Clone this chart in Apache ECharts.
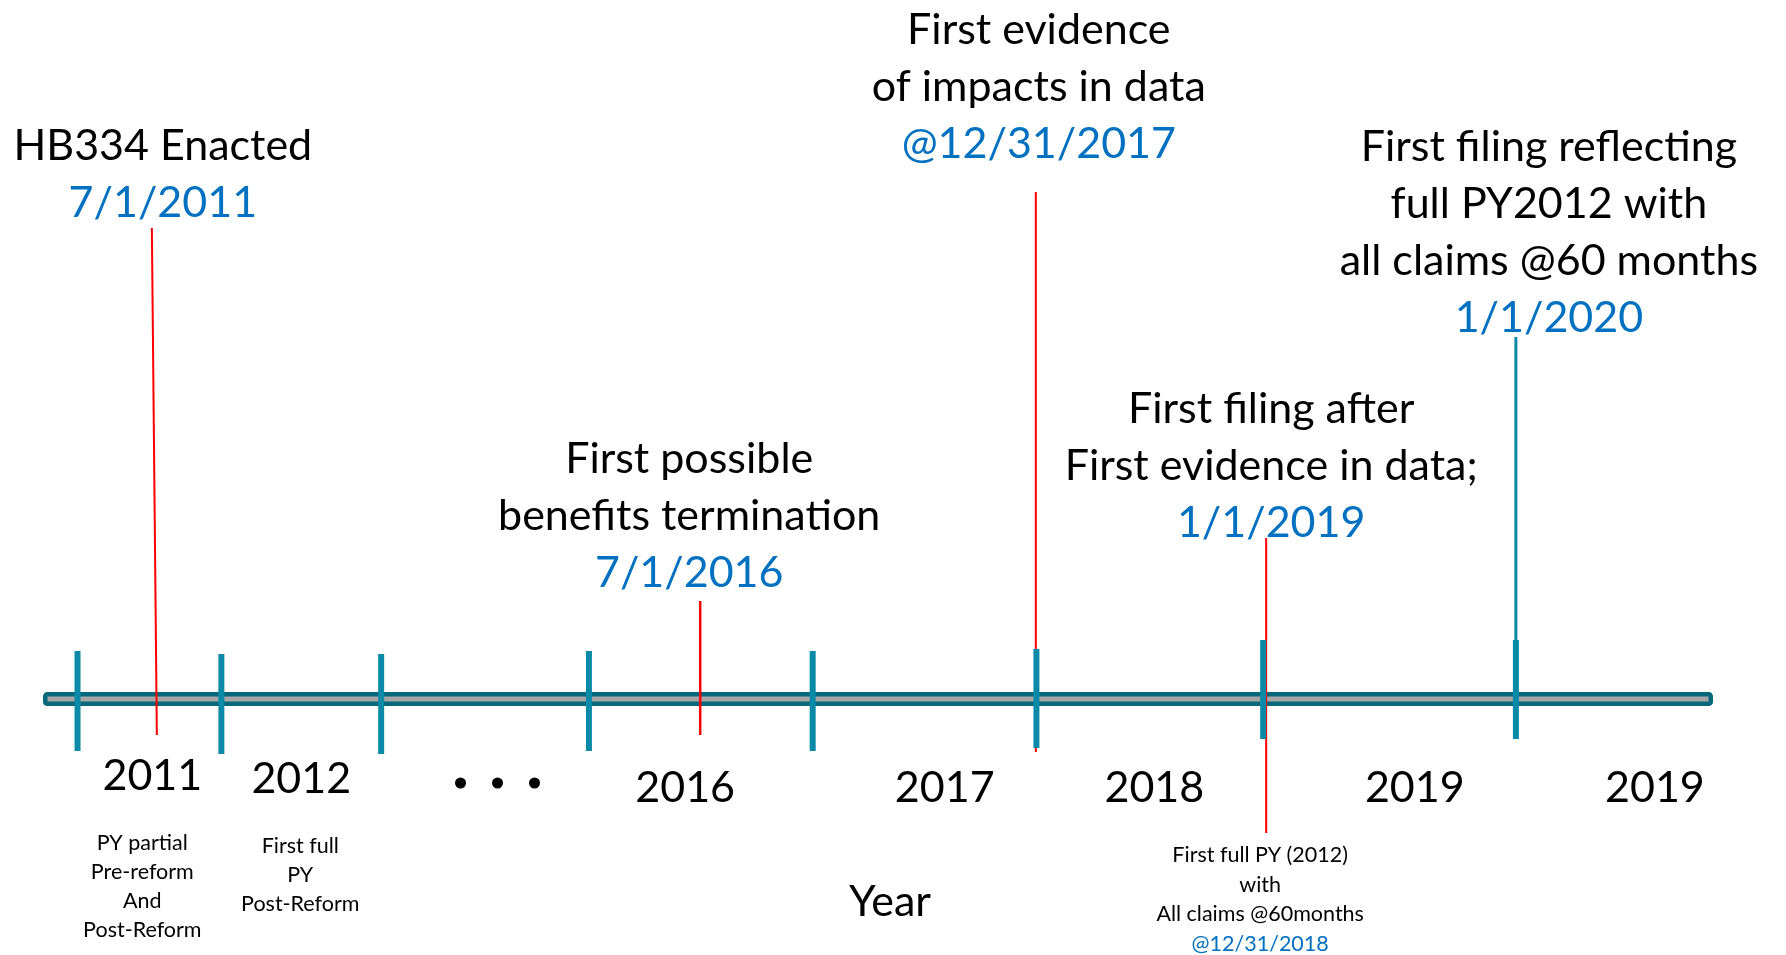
<!DOCTYPE html>
<html>
<head>
<meta charset="utf-8">
<title>HB334 timeline</title>
<script src="https://cdn.jsdelivr.net/npm/echarts@6/dist/echarts.min.js"></script>
<style>
  html, body { margin: 0; padding: 0; background: #fff; }
  #chart { width: 1786px; height: 955px; }
</style>
</head>
<body>
<div id="chart"></div>
<script>
// year boundaries (the tick marks) and where they sit on the schematic timeline
var tickYears = [2011, 2012, 2013, 2016, 2017, 2018, 2019, 2020];
var tickPos = [0, 1.44, 3.04, 5.12, 7.36, 9.60, 11.87, 14.40];
// years covered by the bar
var timelineSpan = [2010.76, 2020.78];

// year labels below the bar
var yearLabels = ['2011', '2012', '...', '2016', '2017', '2018', '2019', '2019'];
var yearLabelAt = [2011.52, 2012.5, 2014.68, 2016.43, 2017.59, 2018.52, 2019.6, 2020.55];

// milestones
var eventDates = ['7/1/2011', '7/1/2016', '12/31/2017', '1/1/2019', '1/1/2020'];
var eventTitles = [
  ['HB334 Enacted'],
  ['First possible', 'benefits termination'],
  ['First evidence', 'of impacts in data'],
  ['First filing after', 'First evidence in data;'],
  ['First filing reflecting', 'full PY2012 with', 'all claims @60 months']
];
var eventDateLabels = ['7/1/2011', '7/1/2016', '@12/31/2017', '1/1/2019', '1/1/2020'];

// small notes under the bar
var notes2011 = ['PY partial', 'Pre-reform', 'And', 'Post-Reform'];
var notes2012 = ['First full', 'PY', 'Post-Reform'];
var notes2019 = ['First full PY (2012)', 'with', 'All claims @60months'];
var notes2019Date = '@12/31/2018';

// ---- styles / layout (pixel offsets from the bar centre line) ----
var FONT = 'Lato, "Open Sans", sans-serif';
var BIG = 43, SMALL = 21.5;
var BLUE = '#0070c0', RED = '#ff0000', TICK = '#0b8aa7';
var tickSpan = [[-48, 52], [-45, 55], [-45, 55], [-48, 52], [-48, 52], [-50, 49], [-59, 40], [-59, 40]];
// lineDx: horizontal nudge of the marker line at its top and bottom (hand-drawn slant)
var eventStyle = [
  { top: -471, bottom: 36, w: 2, color: RED, lineDx: [3, 8], dx: 14, textBottom: -467.5 },
  { top: -98, bottom: 36, w: 2.5, color: RED, lineDx: [0, 0], dx: -11, textBottom: -97.5 },
  { top: -507, bottom: 53, w: 2, color: RED, lineDx: [0, 0], dx: 3, textBottom: -526.5 },
  { top: -161, bottom: 134, w: 2, color: RED, lineDx: [3, 3], dx: 8, textBottom: -147.5 },
  { top: -362, bottom: 0, w: 3, color: TICK, lineDx: [0, 0], dx: 33, textBottom: -352.5 }
];
var yearLabelDy = [77, 80, 84, 89, 89, 89, 89, 89];
var yearNotes = [notes2011, notes2012, null, null, null, null, null, null];
var noteDx = [-10, -1];
var noteTop = [129.5, 132.5];

// piecewise mapping from a (decimal) year to the schematic axis
function toPos(year) {
  var n = tickYears.length, i = 0;
  if (year >= tickYears[n - 1]) i = n - 2;
  else if (year > tickYears[0]) while (year > tickYears[i + 1]) i++;
  var f = (year - tickYears[i]) / (tickYears[i + 1] - tickYears[i]);
  return tickPos[i] + f * (tickPos[i + 1] - tickPos[i]);
}

function dateToYear(s) {
  var p = s.split('/').map(Number);
  var start = Date.UTC(p[2], 0, 1), end = Date.UTC(p[2] + 1, 0, 1);
  return p[2] + (Date.UTC(p[2], p[0] - 1, p[1]) - start) / (end - start);
}

var bigRich = {
  t: { fontSize: BIG, fontFamily: FONT, fill: '#000', lineHeight: 57 },
  d: { fontSize: BIG, fontFamily: FONT, fill: BLUE, lineHeight: 57 }
};
var smallRich = {
  n: { fontSize: SMALL, fontFamily: FONT, fill: '#000', lineHeight: 29.5 },
  d: { fontSize: SMALL, fontFamily: FONT, fill: BLUE, lineHeight: 29.5 }
};

function renderBar(params, api) {
  var cs = params.coordSys;
  var cy = api.coord([0, 0])[1];
  return {
    type: 'rect',
    shape: { x: cs.x + 2.25, y: cy - 4.75, width: cs.width - 4.5, height: 9.5, r: 2 },
    style: { fill: '#a6a6a6', stroke: '#05697b', lineWidth: 4.5 }
  };
}

function renderTick(params, api) {
  var p = api.coord([api.value(0), 0]);
  var s = tickSpan[params.dataIndex];
  return {
    type: 'rect',
    shape: { x: p[0] - 3, y: p[1] + s[0], width: 6, height: s[1] - s[0] },
    style: { fill: TICK }
  };
}

function renderEvent(params, api) {
  var i = params.dataIndex;
  var p = api.coord([api.value(0), 0]);
  var st = eventStyle[i];
  var lines = eventTitles[i].map(function (t) { return '{t|' + t + '}'; });
  lines.push('{d|' + eventDateLabels[i] + '}');
  var children = [
    {
      type: 'line',
      shape: {
        x1: p[0] + st.lineDx[0], y1: p[1] + st.top,
        x2: p[0] + st.lineDx[1], y2: p[1] + st.bottom
      },
      style: { stroke: st.color, lineWidth: st.w }
    },
    {
      type: 'text', x: p[0] + st.dx, y: p[1] + st.textBottom,
      style: { text: lines.join('\n'), align: 'center', verticalAlign: 'bottom', rich: bigRich }
    }
  ];
  if (i === 3) {
    var nl = notes2019.map(function (t) { return '{n|' + t + '}'; });
    nl.push('{d|' + notes2019Date + '}');
    children.push({
      type: 'text', x: p[0] - 3, y: p[1] + 141.5,
      style: { text: nl.join('\n'), align: 'center', verticalAlign: 'top', rich: smallRich }
    });
  }
  return { type: 'group', children: children };
}

function renderYear(params, api) {
  var i = params.dataIndex;
  var p = api.coord([api.value(0), 0]);
  var y = p[1] + yearLabelDy[i];
  var children = [];
  if (yearLabels[i] === '...') {
    for (var k = -1; k <= 1; k++) {
      children.push({ type: 'circle', shape: { cx: p[0] + k * 37, cy: y, r: 5.5 }, style: { fill: '#000' } });
    }
  } else {
    children.push({
      type: 'text', x: p[0], y: y,
      style: { text: yearLabels[i], align: 'center', verticalAlign: 'middle', fontSize: BIG, fontFamily: FONT, fill: '#000' }
    });
  }
  var note = yearNotes[i];
  if (note) {
    children.push({
      type: 'text', x: p[0] + noteDx[i], y: p[1] + noteTop[i],
      style: {
        text: note.join('\n'), align: 'center', verticalAlign: 'top',
        fontSize: SMALL, fontFamily: FONT, lineHeight: 29, fill: '#000'
      }
    });
  }
  return { type: 'group', children: children };
}

var chart = echarts.init(document.getElementById('chart'));
chart.setOption({
  animation: false,
  backgroundColor: '#fff',
  grid: { left: 43, right: 73, top: 599, height: 200 },
  xAxis: { type: 'value', min: toPos(timelineSpan[0]), max: toPos(timelineSpan[1]), show: false },
  yAxis: { type: 'value', min: -1, max: 1, show: false },
  graphic: [{
    type: 'text', x: 890, y: 902,
    style: { text: 'Year', align: 'center', verticalAlign: 'middle', fontSize: BIG, fontFamily: FONT, fill: '#000' }
  }],
  series: [
    { type: 'custom', name: 'bar', z: 1, clip: false, renderItem: renderBar, data: [[0]] },
    {
      type: 'custom', name: 'events', z: 2, clip: false, renderItem: renderEvent,
      data: eventDates.map(function (d) { return [toPos(dateToYear(d))]; })
    },
    {
      type: 'custom', name: 'ticks', z: 3, clip: false, renderItem: renderTick,
      data: tickYears.map(function (y) { return [toPos(y)]; })
    },
    {
      type: 'custom', name: 'years', z: 3, clip: false, renderItem: renderYear,
      data: yearLabelAt.map(function (y) { return [toPos(y)]; })
    }
  ]
});
</script>
</body>
</html>
